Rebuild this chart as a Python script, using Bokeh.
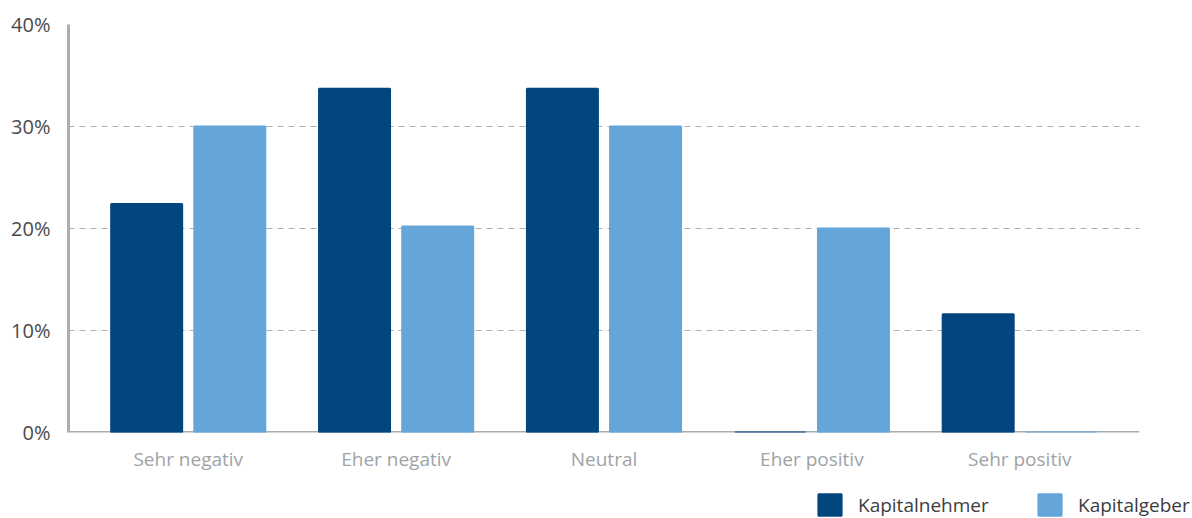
from bokeh.plotting import figure
from bokeh.layouts import column
from bokeh.models import (FactorRange, Range1d, Span, Legend, LegendItem,
                          FixedTicker, ColumnDataSource, CustomJSTickFormatter)
from bokeh.transform import dodge
from bokeh.embed import file_html
from bokeh.resources import INLINE

# Survey answers (share of respondents, %)
categories = ["Sehr negativ", "Eher negativ", "Neutral", "Eher positiv", "Sehr positiv"]
kapitalnehmer = [22.4, 33.7, 33.7, 0.0, 11.6]
kapitalgeber = [30.0, 20.2, 30.0, 20.0, 0.0]
series_names = ["Kapitalnehmer", "Kapitalgeber"]
y_ticks = [0, 10, 20, 30, 40]

FONT = "Open Sans"
DARK = "#03457f"
LIGHT = "#64a5da"
AXIS = "#a9aeb1"
GRID = "#aab0b4"

src = ColumnDataSource(dict(cat=categories, kn=kapitalnehmer, kg=kapitalgeber))

p = figure(
    width=1192, height=490,
    x_range=FactorRange(factors=categories, range_padding=0.076,
                        range_padding_units="absolute"),
    y_range=Range1d(0, 40),
    output_backend="svg", toolbar_location=None,
    min_border_left=68, min_border_right=53,
    min_border_top=24, min_border_bottom=58,
)
p.frame_align = False
p.outline_line_color = None
p.background_fill_color = "white"
p.border_fill_color = "white"

# baseline beneath the bars
p.add_layout(Span(location=0, dimension="width", line_color=AXIS,
                  line_width=3, level="underlay"))

bw = 0.3415
r_kn = p.vbar(x=dodge("cat", -0.2, range=p.x_range), top="kn", bottom=0, width=bw,
              source=src, fill_color=DARK, line_color=DARK, line_width=2)
r_kg = p.vbar(x=dodge("cat", 0.2, range=p.x_range), top="kg", bottom=0, width=bw,
              source=src, fill_color=LIGHT, line_color=LIGHT, line_width=2)

# axes
p.yaxis.ticker = FixedTicker(ticks=y_ticks)
p.yaxis.formatter = CustomJSTickFormatter(code="return tick.toFixed(0) + '%';")
p.yaxis.axis_line_color = AXIS
p.yaxis.axis_line_width = 3
p.yaxis.major_tick_line_color = None
p.yaxis.minor_tick_line_color = None
p.yaxis.major_label_standoff = 12
p.yaxis.major_label_text_font = FONT
p.yaxis.major_label_text_font_size = "20px"
p.yaxis.major_label_text_color = "#4a4a4a"

p.xaxis.axis_line_color = None
p.xaxis.major_tick_line_color = None
p.xaxis.minor_tick_line_color = None
p.xaxis.major_label_standoff = 7
p.xaxis.major_label_text_font = FONT
p.xaxis.major_label_text_font_size = "19px"
p.xaxis.major_label_text_color = "#9ea3a7"

p.xgrid.grid_line_color = None
p.ygrid.ticker = FixedTicker(ticks=y_ticks[1:])
p.ygrid.grid_line_color = GRID
p.ygrid.grid_line_dash = "6 5"
p.ygrid.grid_line_width = 1

# legend strip underneath the chart, spanning the full page width
leg = figure(
    width=1192, height=28, x_range=Range1d(0, 1), y_range=Range1d(0, 1),
    output_backend="svg", toolbar_location=None,
    min_border_left=0, min_border_right=0, min_border_top=0, min_border_bottom=0,
)
leg.frame_align = False
leg.axis.visible = False
leg.grid.visible = False
leg.outline_line_color = None

nan = float("nan")
for name, color, x_off in zip(series_names, [DARK, LIGHT], [815, 1035]):
    # swatch-only renderer: supplies the legend glyph style, draws nothing
    swatch = leg.vbar(x=[nan], top=[nan], width=1, fill_color=color,
                      line_color=color, line_width=2)
    leg.add_layout(Legend(
        items=[LegendItem(label=name, renderers=[swatch])],
        location=(x_off, 0), orientation="horizontal",
        padding=0, margin=0, spacing=0, border_line_color=None,
        background_fill_alpha=0, glyph_width=29, glyph_height=27,
        label_standoff=14, label_text_font=FONT,
        label_text_font_size="19px", label_text_color="#3c3c3c",
    ))

open("out.html", "w").write(file_html(column(p, leg, spacing=0), INLINE))
